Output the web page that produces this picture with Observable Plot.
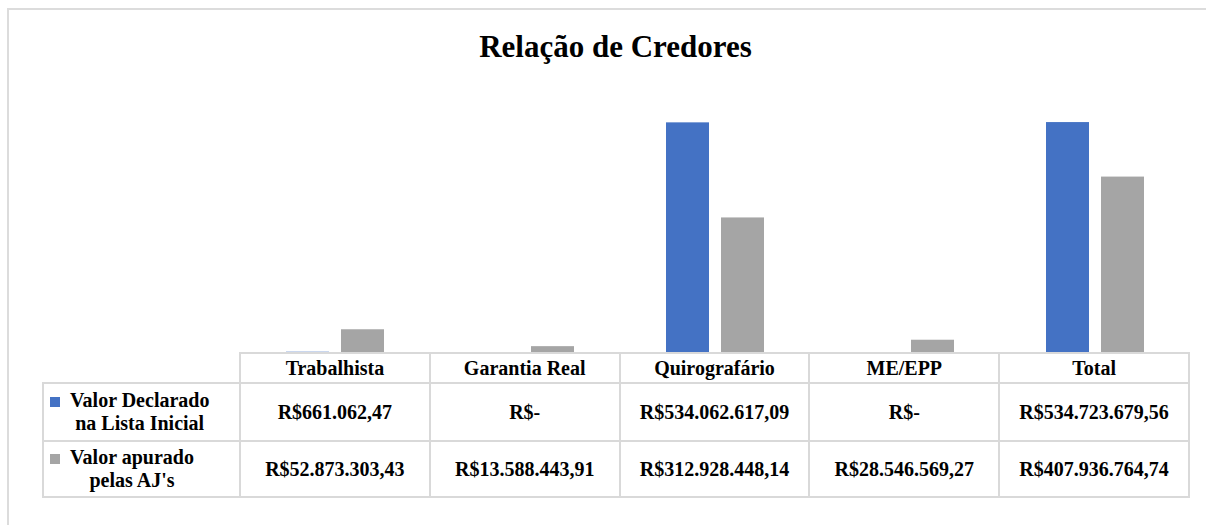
<!DOCTYPE html>
<html>
<head>
<meta charset="utf-8">
<script src="https://cdn.jsdelivr.net/npm/d3@7"></script>
<script src="https://cdn.jsdelivr.net/npm/@observablehq/plot@0.6"></script>
<style>
  html, body { margin: 0; padding: 0; background: #fff; }
  body { font-family: "Liberation Serif", "Times New Roman", serif; color: #000; }
  #wrap { position: relative; width: 1206px; height: 525px; overflow: hidden; }
  #frame { position: absolute; left: 7px; top: 8px; width: 1400px; height: 700px;
           border-left: 2px solid #dcdcdc; border-top: 2px solid #dcdcdc; pointer-events: none; }
  #title { box-sizing: border-box; height: 90px; width: 1231px; padding-top: 29px;
           text-align: center; font-weight: bold; font-size: 31px; line-height: 36px; }
  #chart { height: 262px; }
  #chart svg { display: block; }
  table { margin-left: 42px; width: 1148px; border-collapse: collapse; table-layout: fixed;
          font-size: 20px; font-weight: bold; }
  td, th { border: 2px solid #d9d9d9; padding: 0; text-align: center; vertical-align: middle; }
  th { height: 28px; font-weight: bold; }
  th.empty { border-top: none; border-left: none; }
  tr.r1 td { height: 56px; }
  tr.r2 td { height: 54px; }
  td.lab { text-align: left; }
  .labbox { display: flex; align-items: baseline; padding-left: 6px; }
  .sw { display: inline-block; width: 10px; height: 10px; margin-right: 10px; flex: none; }
  .lt { display: inline-block; text-align: center; line-height: 23px; }
</style>
</head>
<body>
<div id="wrap">
  <div id="frame"></div>
  <div id="title"></div>
  <div id="chart"></div>
  <div id="tbl"></div>
</div>
<script>
const title = "Relação de Credores";
const categories = ["Trabalhista", "Garantia Real", "Quirografário", "ME/EPP", "Total"];
const series = ["Valor Declarado na Lista Inicial", "Valor apurado pelas AJ's"];
const seriesLines = [["Valor Declarado", "na Lista Inicial"], ["Valor apurado", "pelas AJ's"]];
const declarado = [661062.47, 0, 534062617.09, 0, 534723679.56];
const apurado = [52873303.43, 13588443.91, 312928448.14, 28546569.27, 407936764.74];
const declaradoLabels = ["R$661.062,47", "R$-", "R$534.062.617,09", "R$-", "R$534.723.679,56"];
const apuradoLabels = ["R$52.873.303,43", "R$13.588.443,91", "R$312.928.448,14", "R$28.546.569,27", "R$407.936.764,74"];
const colors = ["#4472C4", "#A5A5A5"];

document.getElementById("title").textContent = title;

const values = [declarado, apurado];
const data = categories.flatMap((c, i) => series.map((s, j) => ({category: c, series: s, value: values[j][i]})));

const chart = Plot.plot({
  width: 1206,
  height: 262,
  marginLeft: 239,
  marginRight: 16,
  marginTop: 4,
  marginBottom: 0,
  fx: {domain: categories, padding: 0, axis: null},
  x: {domain: series, paddingInner: 0.218, paddingOuter: 0.836, axis: null},
  y: {domain: [0, 600e6], axis: null},
  color: {domain: series, range: colors},
  marks: [
    Plot.barY(data, {fx: "category", x: "series", y: "value", fill: "series"})
  ]
});
document.getElementById("chart").appendChild(chart);

// data table (legend + category labels + values)
const labels = [declaradoLabels, apuradoLabels];
const table = document.createElement("table");
const colgroup = document.createElement("colgroup");
const c0 = document.createElement("col"); c0.style.width = "197px"; colgroup.appendChild(c0);
categories.forEach(() => colgroup.appendChild(document.createElement("col")));
table.appendChild(colgroup);
const head = document.createElement("tr");
const empty = document.createElement("th"); empty.className = "empty"; head.appendChild(empty);
categories.forEach(c => { const th = document.createElement("th"); th.textContent = c; head.appendChild(th); });
table.appendChild(head);
series.forEach((s, j) => {
  const tr = document.createElement("tr");
  tr.className = "r" + (j + 1);
  const td = document.createElement("td"); td.className = "lab";
  const box = document.createElement("div"); box.className = "labbox";
  const sw = document.createElement("span"); sw.className = "sw"; sw.style.background = colors[j];
  const lt = document.createElement("span"); lt.className = "lt";
  seriesLines[j].forEach((line, k) => {
    if (k) lt.appendChild(document.createElement("br"));
    lt.appendChild(document.createTextNode(line));
  });
  box.appendChild(sw); box.appendChild(lt); td.appendChild(box); tr.appendChild(td);
  labels[j].forEach(v => { const c = document.createElement("td"); c.textContent = v; tr.appendChild(c); });
  table.appendChild(tr);
});
document.getElementById("tbl").appendChild(table);
</script>
</body>
</html>
